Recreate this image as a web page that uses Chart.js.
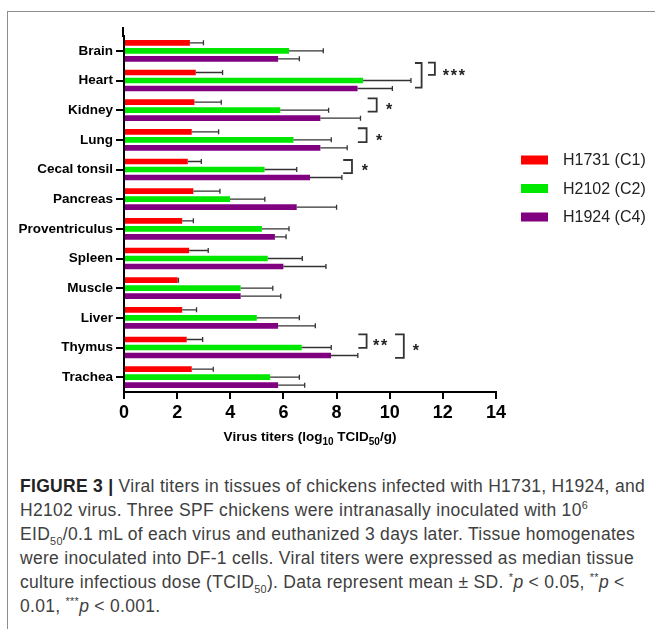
<!DOCTYPE html>
<html>
<head>
<meta charset="utf-8">
<script src="https://cdn.jsdelivr.net/npm/chart.js@4.4.1/dist/chart.umd.min.js"></script>
<style>
  html, body { margin: 0; padding: 0; background: #fff; }
  #wrap { position: relative; width: 655px; height: 629px; overflow: hidden; }
  #frame { position: absolute; left: 7px; top: 11px; width: 700px; height: 700px;
           border-top: 1.5px solid #8c8c8c; border-left: 1.5px solid #8c8c8c; }
  #chart { position: absolute; left: 0; top: 0; }
  #caption { position: absolute; left: 20px; top: 474px; width: 640px;
             font-family: 'Liberation Sans', Arial, sans-serif; font-size: 17.5px;
             line-height: 24px; color: #404040; white-space: nowrap; }
  #caption b { color: #222; }
  #caption sup, #caption sub { font-size: 0.62em; line-height: 0; }
</style>
</head>
<body>
<div id="wrap">
  <div id="frame"></div>
  <canvas id="chart" width="655" height="460"></canvas>
  <div id="caption">
    <span id="line1"><b>FIGURE 3 |</b> Viral titers in tissues of chickens infected with H1731, H1924, and</span><br>
    H2102 virus. Three SPF chickens were intranasally inoculated with 10<sup>6</sup><br>
    EID<sub>50</sub>/0.1 mL of each virus and euthanized 3 days later. Tissue homogenates<br>
    were inoculated into DF-1 cells. Viral titers were expressed as median tissue<br>
    culture infectious dose (TCID<sub>50</sub>). Data represent mean ± SD. <sup>*</sup><i>p</i> &lt; 0.05, <sup>**</sup><i>p</i> &lt;<br>
    0.01, <sup>***</sup><i>p</i> &lt; 0.001.
  </div>
</div>
<script>
const tissues = ['Brain', 'Heart', 'Kidney', 'Lung', 'Cecal tonsil', 'Pancreas',
  'Proventriculus', 'Spleen', 'Muscle', 'Liver', 'Thymus', 'Trachea'];

// mean titers (log10 TCID50/g)
const h1731 = [2.48, 2.70, 2.65, 2.55, 2.40, 2.61, 2.19, 2.45, 2.02, 2.19, 2.36, 2.55];
const h2102 = [6.21, 9.00, 5.88, 6.38, 5.29, 3.99, 5.19, 5.41, 4.39, 5.00, 6.69, 5.50];
const h1924 = [5.80, 8.79, 7.39, 7.39, 7.00, 6.50, 5.68, 6.00, 4.39, 5.80, 7.79, 5.80];

// standard deviations
const h1731Sd = [0.51, 1.01, 1.01, 1.01, 0.51, 1.00, 0.42, 0.72, 0.03, 0.54, 0.60, 0.81];
const h2102Sd = [1.29, 1.80, 1.82, 1.42, 1.21, 1.31, 1.02, 1.30, 1.21, 1.60, 1.11, 1.10];
const h1924Sd = [0.80, 1.31, 1.51, 1.01, 1.20, 1.50, 0.42, 1.60, 1.51, 1.40, 1.01, 1.00];

const xMax = 14;
const xStep = 2;

// significance brackets: row, arm start / vertical (data x), span in rows, label
const brackets = [
  { row: 1, x0: 10.95, x1: 11.20, y0: -0.59, y1: 0.24 },
  { row: 1, x0: 11.44, x1: 11.70, y0: -0.60, y1: -0.19, label: '***', lx: 12.0, ly: -0.30 },
  { row: 2, x0: 9.17, x1: 9.51, y0: -0.40, y1: 0.05, label: '*', lx: 9.86, ly: -0.14 },
  { row: 3, x0: 8.80, x1: 9.13, y0: -0.39, y1: 0.08, label: '*', lx: 9.48, ly: -0.10 },
  { row: 4, x0: 8.25, x1: 8.58, y0: -0.32, y1: 0.12, label: '*', lx: 8.95, ly: -0.09 },
  { row: 10, x0: 8.82, x1: 9.13, y0: -0.44, y1: 0.01, label: '**', lx: 9.37, ly: -0.18 },
  { row: 10, x0: 10.20, x1: 10.53, y0: -0.44, y1: 0.35, label: '*', lx: 10.87, ly: -0.01 },
];

// stretch the first caption line to the width it has in the figure
(function fitCaption() {
  const line = document.getElementById('line1');
  const cap = document.getElementById('caption');
  const n = line.textContent.length;
  const extra = 625 - line.getBoundingClientRect().width;
  cap.style.letterSpacing = (extra / n).toFixed(3) + 'px';
})();

const errorBars = {
  id: 'errorBars',
  afterDatasetsDraw(chart) {
    const ctx = chart.ctx;
    const xs = chart.scales.x;
    ctx.save();
    ctx.strokeStyle = '#333';
    ctx.lineWidth = 1.3;
    chart.data.datasets.forEach((ds, i) => {
      chart.getDatasetMeta(i).data.forEach((bar, j) => {
        const end = xs.getPixelForValue(ds.data[j] + ds.sd[j]);
        ctx.beginPath();
        ctx.moveTo(bar.x, bar.y);
        ctx.lineTo(end, bar.y);
        ctx.moveTo(end, bar.y - 2.5);
        ctx.lineTo(end, bar.y + 2.5);
        ctx.stroke();
      });
    });
    ctx.restore();
  }
};

const extras = {
  id: 'extras',
  afterDraw(chart) {
    const ctx = chart.ctx;
    const xs = chart.scales.x;
    const ys = chart.scales.y;
    const area = chart.chartArea;
    const rowH = ys.getPixelForValue(1) - ys.getPixelForValue(0);
    ctx.save();

    // y axis line runs a little above the first category
    ctx.strokeStyle = '#000';
    ctx.lineWidth = 2;
    ctx.beginPath();
    ctx.moveTo(area.left - 1, area.top - 9);
    ctx.lineTo(area.left - 1, area.top + 1);
    ctx.stroke();

    // brackets
    ctx.strokeStyle = '#333';
    ctx.lineWidth = 1.8;
    ctx.fillStyle = '#222';
    ctx.font = 'bold 16px "Liberation Sans", Arial, sans-serif';
    ctx.textBaseline = 'alphabetic';
    brackets.forEach(b => {
      const yc = ys.getPixelForValue(b.row);
      const xa = xs.getPixelForValue(b.x0);
      const xb = xs.getPixelForValue(b.x1);
      const ya = yc + b.y0 * rowH;
      const yb = yc + b.y1 * rowH;
      ctx.beginPath();
      ctx.moveTo(xa, ya);
      ctx.lineTo(xb, ya);
      ctx.lineTo(xb, yb);
      ctx.lineTo(xa, yb);
      ctx.stroke();
      if (b.label) {
        const x0 = xs.getPixelForValue(b.lx);
        b.label.split('').forEach((c, k) => {
          ctx.fillText(c, x0 + k * 8, yc + b.ly * rowH + 9);
        });
      }
    });

    // axis title with subscripts
    const parts = [['Virus titers (log', false], ['10', true], [' TCID', false], ['50', true], ['/g)', false]];
    const big = 'bold 13.5px "Liberation Sans", Arial, sans-serif';
    const small = 'bold 10px "Liberation Sans", Arial, sans-serif';
    let w = 0;
    parts.forEach(p => { ctx.font = p[1] ? small : big; w += ctx.measureText(p[0]).width; });
    let x = (area.left + area.right) / 2 - w / 2;
    const base = 441;
    ctx.fillStyle = '#000';
    parts.forEach(p => {
      ctx.font = p[1] ? small : big;
      ctx.fillText(p[0], x, p[1] ? base + 3.5 : base);
      x += ctx.measureText(p[0]).width;
    });

    // legend
    const lx = 521, ly = 160, step = 28.5;
    ctx.font = '16px "Liberation Sans", Arial, sans-serif';
    ctx.textBaseline = 'middle';
    chart.data.datasets.forEach((ds, i) => {
      const y = ly + i * step;
      ctx.fillStyle = ds.backgroundColor;
      ctx.fillRect(lx, y - 4.5, 27, 9);
      ctx.fillStyle = '#222';
      ctx.fillText(ds.label, lx + 42, y + 1);
    });
    ctx.restore();
  }
};

new Chart(document.getElementById('chart'), {
  type: 'bar',
  data: {
    labels: tissues,
    datasets: [
      { label: 'H1731 (C1)', data: h1731, sd: h1731Sd, backgroundColor: '#ff0000' },
      { label: 'H2102 (C2)', data: h2102, sd: h2102Sd, backgroundColor: '#00e800' },
      { label: 'H1924 (C4)', data: h1924, sd: h1924Sd, backgroundColor: '#800080' },
    ],
  },
  options: {
    indexAxis: 'y',
    responsive: false,
    animation: false,
    devicePixelRatio: 1,
    datasets: { bar: { categoryPercentage: 0.81, barPercentage: 0.7 } },
    layout: { padding: { left: 0, right: 159, top: 36, bottom: 0 } },
    plugins: { legend: { display: false }, tooltip: { enabled: false } },
    scales: {
      x: {
        type: 'linear',
        min: 0,
        max: xMax,
        afterFit: s => { s.height = 68; },
        ticks: { stepSize: xStep, color: '#000', padding: 3,
          font: { family: '"Liberation Sans", Arial, sans-serif', weight: 'bold', size: 18 } },
        grid: { drawOnChartArea: false, tickLength: 7, color: '#000', lineWidth: 2 },
        border: { color: '#000', width: 2 },
      },
      y: {
        afterFit: s => { s.width = 124; },
        ticks: { color: '#000', padding: 3,
          font: { family: '"Liberation Sans", Arial, sans-serif', weight: 'bold', size: 13.5 } },
        grid: { drawOnChartArea: false, offset: false, tickLength: 8, color: '#000', lineWidth: 2 },
        border: { color: '#000', width: 2 },
      },
    },
  },
  plugins: [errorBars, extras],
});
</script>
</body>
</html>
